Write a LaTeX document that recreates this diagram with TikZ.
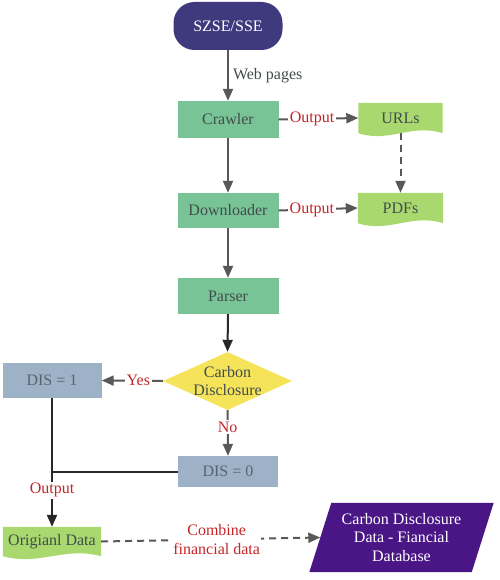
\documentclass[tikz,border=0pt]{standalone}
\usepackage{fontspec}
\setmainfont{Liberation Serif}
\usetikzlibrary{arrows.meta,shapes.geometric,backgrounds,calc}
\definecolor{srcblue}{RGB}{62,58,125}
\definecolor{procgreen}{RGB}{120,196,150}
\definecolor{docgreen}{RGB}{168,216,110}
\definecolor{decyellow}{RGB}{245,228,90}
\definecolor{disblue}{RGB}{157,178,198}
\definecolor{dbpurple}{RGB}{74,22,134}
\definecolor{textdark}{RGB}{66,76,76}
\definecolor{distext}{RGB}{90,100,112}
\definecolor{labred}{RGB}{196,38,40}
\definecolor{arrgray}{RGB}{88,88,88}
\definecolor{arrdark}{RGB}{40,40,40}
\newcommand\fs{\fontsize{16}{18.8}\selectfont}
\newcommand\docfill[2]{%
  \fill[#2] (#1.north west) -- (#1.north east) -- (#1.south east)
    .. controls ($(#1.south east)!0.38!(#1.south west)+(0,-10)$) and ($(#1.south west)!0.38!(#1.south east)+(0,10)$) .. (#1.south west) -- cycle;}
\begin{document}
\begin{tikzpicture}[x=1pt,y=-1pt,
  every node/.style={font=\fs},
  srcbox/.style={rectangle, rounded corners=21pt, fill=srcblue, text=white, inner sep=0, minimum width=109pt, minimum height=48pt},
  procbox/.style={rectangle, fill=procgreen, text=textdark, inner sep=0, minimum width=101pt},
  docbox/.style={rectangle, text=textdark, inner sep=0},
  disbox/.style={rectangle, fill=disblue, text=distext, inner sep=0, minimum width=99pt},
  lab/.style={fill=white, text=labred, inner sep=1.5pt},
  conn/.style={draw=arrgray, line width=2pt, -{Triangle[length=12pt,width=10pt]}},
  darkconn/.style={conn, draw=arrdark},
  dconn/.style={conn, dash pattern=on 7pt off 5pt}
]
\useasboundingbox (0,0) rectangle (499,580);

\node[srcbox] (szse) at (228,26) {SZSE/SSE};
\node[procbox, minimum height=37pt] (crawler) at (228,119.5) {Crawler};
\node[procbox, minimum height=35pt] (downloader) at (228,210.5) {Downloader};
\node[procbox, minimum height=36pt] (parser) at (228,296) {Parser};

\node[docbox, minimum width=84pt, minimum height=30pt] (urls) at (400.5,118) {URLs};
\node[docbox, minimum width=85pt, minimum height=30pt] (pdfs) at (400.5,208) {PDFs};
\node[docbox, minimum width=98pt, minimum height=29pt] (orig) at (52,541.5) {Origianl Data};

\node[diamond, fill=decyellow, inner sep=0, minimum width=129pt, minimum height=58pt] (dec) at (227.5,381) {};
\node[text=textdark, align=center, inner sep=0] (dectext) at (227.5,381) {Carbon\\Disclosure};

\node[disbox, minimum height=35pt] (dis1) at (52,380.5) {DIS = 1};
\node[disbox, minimum width=100pt, minimum height=31pt] (dis0) at (228,471.5) {DIS = 0};

\node[rectangle, inner sep=0, minimum width=162pt, minimum height=69pt, text=white, align=center] (db) at (401.5,537.5) {Carbon Disclosure\\Data - Fiancial\\Database};

\begin{pgfonlayer}{background}
  \docfill{urls}{docgreen}
  \docfill{pdfs}{docgreen}
  \docfill{orig}{docgreen}
  \fill[dbpurple] ([xshift=-11pt]db.south west) -- ([xshift=11pt]db.north west) -- ([xshift=11pt]db.north east) -- ([xshift=-11pt]db.south east) -- cycle;
\end{pgfonlayer}

\draw[conn] (szse.south) -- node[right, text=textdark, inner sep=4pt] (weblab) {Web pages} (crawler.north);
\draw[conn] (crawler.east) -- node[lab, pos=0.42] (out1) {Output} (urls.west);
\draw[conn] (crawler.south) -- (downloader.north);
\draw[dconn] (urls.south) -- (pdfs.north);
\draw[conn] (downloader.east) -- node[lab, pos=0.42] (out2) {Output} (pdfs.west);
\draw[conn] (downloader.south) -- (parser.north);
\draw[darkconn] (parser.south) -- (dec.north);
\draw[conn] (dec.west) -- node[lab, pos=0.4] (yes) {Yes} (dis1.east);
\draw[conn] (dec.south) -- node[lab, pos=0.37] (no) {No} (dis0.north);
\coordinate (join) at (dis1.south |- dis0.west);
\draw[draw=arrdark, line width=2pt] (dis1.south) -- (join);
\draw[draw=arrdark, line width=2pt] (dis0.west) -- (join);
\draw[darkconn] (join) -- node[lab, pos=0.34] (out3) {Output} (orig.north);
\draw[dconn] (orig.east) -- node[lab, pos=0.527, align=center] (comb) {Combine\\financial data} (db.west);
\end{tikzpicture}
\end{document}
